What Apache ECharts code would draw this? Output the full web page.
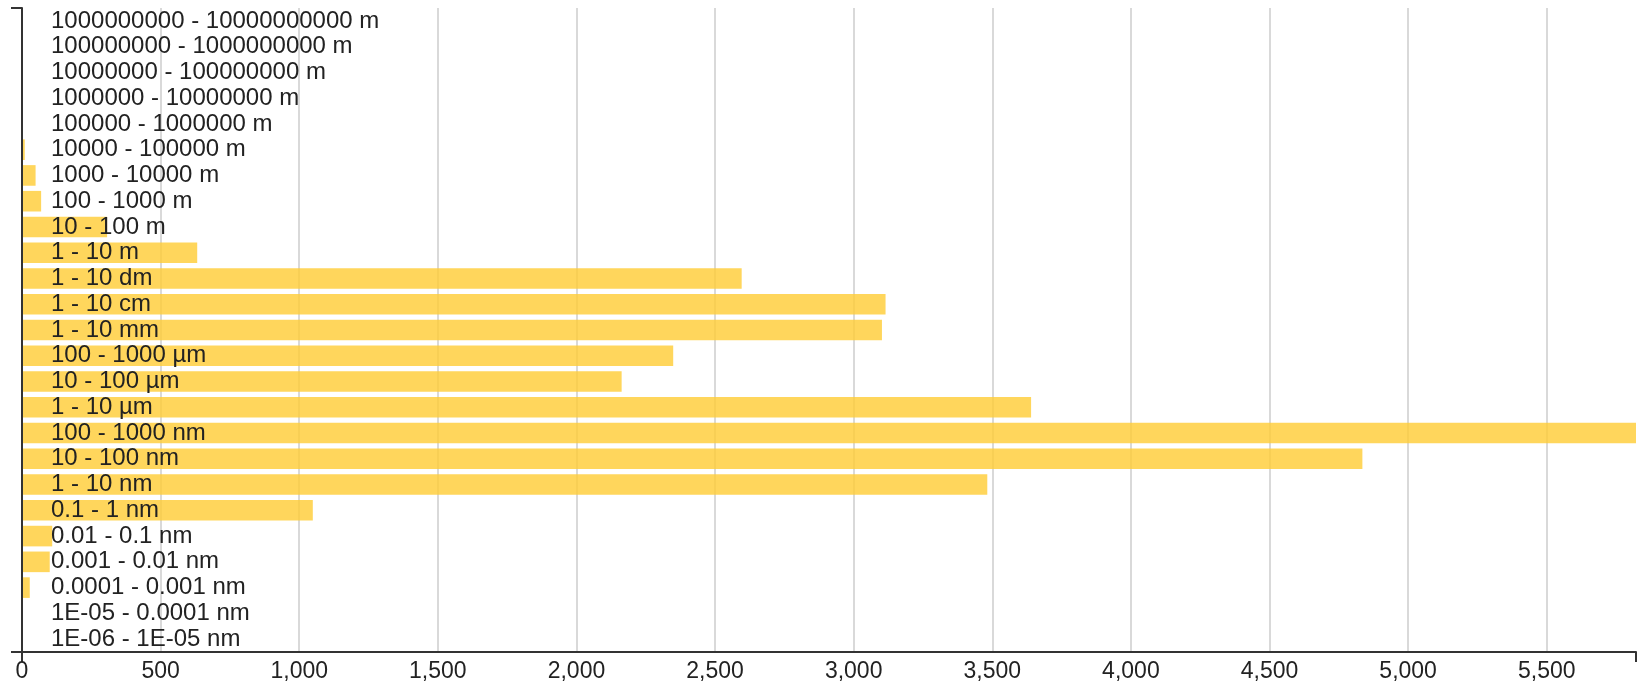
<!DOCTYPE html>
<html>
<head>
<meta charset="utf-8">
<script src="https://cdn.jsdelivr.net/npm/echarts@6/dist/echarts.min.js"></script>
<style>
html,body{margin:0;padding:0;background:#fff;}
#chart{width:1637px;height:690px;}
</style>
</head>
<body>
<div id="chart"></div>
<script>
const categories = [
  "1000000000 - 10000000000 m",
  "100000000 - 1000000000 m",
  "10000000 - 100000000 m",
  "1000000 - 10000000 m",
  "100000 - 1000000 m",
  "10000 - 100000 m",
  "1000 - 10000 m",
  "100 - 1000 m",
  "10 - 100 m",
  "1 - 10 m",
  "1 - 10 dm",
  "1 - 10 cm",
  "1 - 10 mm",
  "100 - 1000 µm",
  "10 - 100 µm",
  "1 - 10 µm",
  "100 - 1000 nm",
  "10 - 100 nm",
  "1 - 10 nm",
  "0.1 - 1 nm",
  "0.01 - 0.1 nm",
  "0.001 - 0.01 nm",
  "0.0001 - 0.001 nm",
  "1E-05 - 0.0001 nm",
  "1E-06 - 1E-05 nm"
];
const counts = [
  0, 0, 0, 0, 0, 10, 49, 69, 307, 632,
  2596, 3115, 3102, 2349, 2163, 3640, 5822, 4835, 3482, 1049,
  109, 100, 28, 0, 0
];
const tickStep = 500;

const maxVal = Math.max(...counts);
const font = "'Liberation Sans', Arial, sans-serif";
const chart = echarts.init(document.getElementById('chart'), null, {renderer: 'canvas'});
chart.setOption({
  animation: false,
  backgroundColor: '#ffffff',
  grid: {left: 22, right: 1, top: 8, bottom: 38},
  xAxis: [{
    type: 'value',
    position: 'bottom',
    min: 0,
    max: maxVal,
    interval: tickStep,
    axisLine: {show: true, lineStyle: {color: '#333333', width: 2}},
    axisTick: {show: false},
    axisLabel: {
      showMaxLabel: false,
      margin: 8,
      fontSize: 23,
      color: '#222222',
      fontFamily: font,
      formatter: v => v.toLocaleString('en-US')
    },
    splitLine: {show: true, showMaxLine: false, lineStyle: {color: '#cccccc', width: 1.5}}
  }, {
    type: 'value',
    position: 'bottom',
    min: 0,
    max: maxVal,
    axisLine: {show: false},
    axisTick: {show: true, customValues: [0, maxVal], length: 10, lineStyle: {color: '#333333', width: 2}},
    axisLabel: {show: false},
    splitLine: {show: false}
  }],
  yAxis: {
    type: 'category',
    data: categories,
    inverse: true,
    z: 5,
    axisLine: {show: true, lineStyle: {color: '#333333', width: 2}},
    axisTick: {show: true, interval: (i) => i === 0, length: 11, lineStyle: {color: '#333333', width: 2}},
    axisLabel: {
      inside: true,
      margin: 29,
      interval: 0,
      fontSize: 24,
      color: '#222222',
      fontFamily: font,
      padding: [3, 0, 0, 0]
    },
    splitLine: {show: false}
  },
  series: [{
    type: 'bar',
    xAxisIndex: 0,
    data: counts,
    barCategoryGap: '20%',
    itemStyle: {color: 'rgba(255,204,51,0.8)'}
  }]
});
</script>
</body>
</html>
